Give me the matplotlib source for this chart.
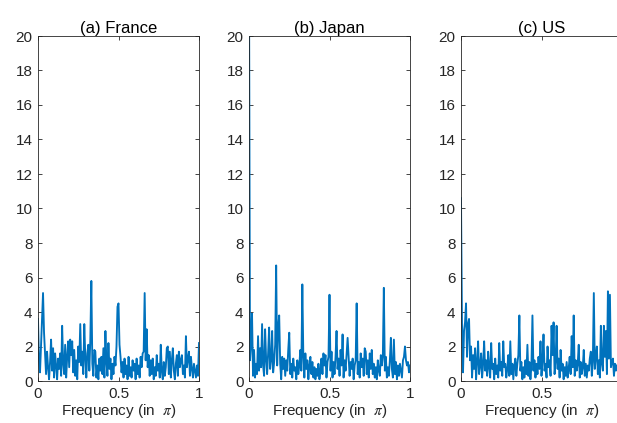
import numpy as np
import matplotlib
matplotlib.use("Agg")
import matplotlib.pyplot as plt

plt.rcParams['font.family'] = ['Liberation Sans', 'DejaVu Sans']
plt.rcParams['mathtext.fontset'] = 'stix'

titles = ["(a) France", "(b) Japan", "(c) US"]

france = [3.6, 1.2, 0.5, 2.0, 3.4, 5.1, 2.8, 1.6, 0.4, 1.7,
          0.8, 0.1, 1.1, 2.4, 0.6, 1.9, 0.2, 1.6, 0.9, 0.1,
          1.3, 0.7, 1.6, 0.3, 3.2, 1.0, 0.4, 2.1, 0.2, 1.4,
          2.3, 0.8, 2.4, 1.5, 2.3, 0.5, 1.8, 0.3, 1.2, 0.1,
          2.0, 1.1, 3.3, 0.9, 1.7, 0.4, 3.3, 1.4, 0.2, 1.6,
          2.1, 0.6, 2.4, 5.8, 1.0, 0.3, 1.8, 1.7, 0.2, 0.9,
          0.1, 1.3, 0.6, 1.4, 0.4, 1.9, 0.2, 2.9, 1.1, 0.3,
          2.2, 0.7, 1.3, 0.1, 1.0, 0.4, 1.4, 0.9, 2.0, 4.3,
          4.5, 2.1, 1.4, 0.5, 1.1, 0.2, 1.3, 0.4, 0.9, 0.1,
          1.4, 0.3, 0.8, 0.2, 1.2, 0.6, 1.0, 0.1, 1.3, 0.4,
          0.9, 0.2, 1.4, 0.8, 1.6, 1.7, 5.1, 1.2, 3.0, 0.8,
          1.5, 0.3, 1.2, 0.4, 1.3, 0.1, 0.8, 0.3, 1.5, 0.6,
          1.0, 0.2, 2.1, 0.6, 0.1, 1.1, 0.3, 0.8, 1.9, 2.0,
          0.4, 1.7, 0.2, 1.2, 1.9, 0.6, 0.1, 1.0, 1.5, 0.3,
          1.7, 0.8, 1.2, 1.5, 0.4, 0.9, 0.2, 2.6, 0.8, 1.3,
          1.7, 0.3, 1.4, 0.7, 0.2, 1.0, 0.6, 0.2, 0.9, 0.3,
          2.2]

japan = [24.0, 1.2, 2.1, 3.9, 0.3, 1.8, 0.2, 1.0, 0.4, 2.6,
         0.6, 1.9, 0.8, 3.3, 0.9, 0.3, 3.0, 1.3, 0.4, 1.6,
         3.1, 0.7, 1.2, 2.9, 0.5, 1.1, 2.1, 6.7, 0.9, 3.1,
         3.8, 1.0, 0.1, 1.4, 0.7, 1.3, 0.3, 1.2, 0.6, 1.8,
         2.8, 0.4, 1.0, 0.2, 1.3, 0.6, 0.8, 0.1, 1.2, 0.4,
         0.9, 1.8, 0.6, 5.6, 1.4, 0.2, 1.6, 0.7, 1.2, 0.1,
         0.9, 1.4, 0.4, 1.1, 0.2, 0.8, 0.1, 0.7, 0.3, 1.0,
         0.1, 0.6, 1.3, 0.4, 1.6, 0.9, 1.5, 0.2, 1.1, 1.4,
         5.0, 0.6, 1.7, 0.2, 1.1, 0.4, 1.4, 2.9, 0.7, 1.3,
         0.3, 1.8, 0.9, 2.7, 0.2, 1.2, 0.6, 1.6, 2.5, 1.4,
         0.3, 1.1, 0.7, 1.3, 0.1, 0.9, 1.2, 4.5, 0.4, 1.1,
         0.2, 1.6, 0.8, 1.3, 0.3, 1.9, 1.7, 0.4, 1.2, 0.2,
         1.6, 0.7, 1.8, 0.4, 1.0, 0.2, 0.8, 0.1, 1.2, 0.6,
         0.3, 1.5, 0.9, 1.4, 5.4, 0.6, 1.4, 0.2, 0.8, 0.3,
         1.2, 2.5, 0.7, 0.2, 2.4, 0.4, 1.1, 0.1, 0.9, 0.3,
         1.0, 0.6, 0.2, 1.2, 1.4, 2.0, 1.2, 0.9, 1.1, 0.5,
         0.9]

us = [10.6, 3.3, 0.5, 2.9, 3.4, 4.5, 1.4, 3.3, 3.6, 1.2,
      2.0, 0.2, 1.5, 0.7, 1.9, 0.1, 1.1, 2.3, 0.4, 0.9,
      1.6, 0.2, 1.0, 2.3, 0.6, 1.2, 0.3, 1.7, 0.8, 0.2,
      2.2, 0.7, 1.0, 0.1, 1.3, 0.4, 0.9, 0.2, 2.2, 0.6,
      1.1, 0.3, 2.3, 0.8, 1.0, 0.2, 0.7, 1.5, 0.3, 2.3,
      0.4, 1.0, 0.1, 0.9, 1.3, 0.3, 1.0, 1.5, 3.8, 0.6,
      1.1, 0.1, 0.8, 0.2, 1.2, 0.4, 2.1, 0.3, 1.1, 0.1,
      0.9, 3.8, 0.6, 1.2, 0.2, 1.0, 0.4, 1.4, 0.7, 2.3,
      0.3, 1.2, 2.7, 0.6, 1.0, 0.2, 2.0, 0.8, 1.2, 0.3,
      3.2, 1.5, 3.4, 0.4, 1.1, 3.2, 0.7, 1.3, 0.2, 1.8,
      0.6, 1.0, 0.1, 0.8, 0.3, 1.1, 0.2, 0.7, 1.4, 0.4,
      2.6, 0.8, 3.8, 0.3, 1.2, 0.6, 1.0, 2.1, 0.2, 1.1,
      0.4, 0.8, 1.8, 0.3, 1.0, 0.2, 0.9, 0.6, 1.3, 1.7,
      0.3, 1.1, 5.1, 0.7, 1.4, 2.0, 0.4, 1.2, 0.2, 3.2,
      1.0, 0.6, 3.2, 1.4, 2.9, 0.4, 5.2, 1.3, 5.0, 0.8,
      1.1, 1.3, 0.3, 1.0, 0.6, 0.9, 1.0, 0.4, 1.2, 0.7,
      0.8]

series = [france, japan, us]
lefts = [38, 249, 461]
# the right panel runs past the figure edge in the original, so its "1" is not seen
xlabels = [['0', '0.5', '1'], ['0', '0.5', '1'], ['0', '0.5', '']]

W, H = 617, 423
fig = plt.figure(figsize=(W / 100, H / 100), dpi=100)

axcol = '#262626'
for left, title, vals, xl in zip(lefts, titles, series, xlabels):
    ax = fig.add_axes([left / W, (H - 381) / H, 161 / W, 345 / H])
    freq = np.linspace(0, 1, len(vals))
    ax.plot(freq, vals, color='#0072BD', linewidth=1.35)
    ax.set_xlim(0, 1)
    ax.set_ylim(0, 20)
    ax.set_xticks([0, 0.5, 1])
    ax.set_xticklabels(xl)
    ax.set_yticks(np.arange(0, 21, 2))
    ax.tick_params(direction='in', top=True, right=True, length=3,
                   width=0.6, labelsize=11, colors=axcol, pad=4)
    for s in ax.spines.values():
        s.set_color(axcol)
        s.set_linewidth(0.6)
    ax.set_title(title, fontsize=12, color='black', pad=2)
    ax.set_xlabel(r'Frequency (in  $\pi$)', fontsize=11, color=axcol,
                  labelpad=1)

fig.savefig('out.png', dpi=100)
